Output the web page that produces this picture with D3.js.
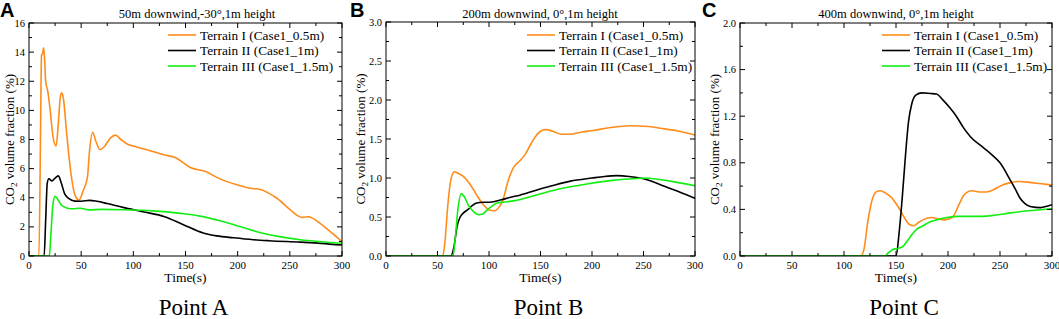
<!DOCTYPE html>
<html>
<head>
<meta charset="utf-8">
<script src="https://cdn.jsdelivr.net/npm/d3@7"></script>
<style>
  body { margin: 0; background: #fff; }
</style>
</head>
<body>
<div id="chart"></div>
<script>
// series names
const seriesNames = ["Terrain I (Case1_0.5m)", "Terrain II (Case1_1m)", "Terrain III (Case1_1.5m)"];
const seriesColors = ["#ff8c1a", "#000000", "#11ee11"];

// Point A: [time, CO2 %]
const aTerrain1 = [[0,0],[9.5,0],[11,8],[12,13.8],[13,13.9],[14,14.3],[15,13.5],[16,12],[18,11.3],[20,10.2],[23,8.2],[26,7.55],[28,9],[30,10.9],[31.5,11.2],[33,10.8],[36,8.5],[40,5.8],[44,4.2],[48,3.85],[52,4.5],[56,5.4],[58,7.2],[61,8.5],[64,7.9],[68,7.3],[72,7.5],[78,8.1],[83,8.3],[88,8.0],[95,7.65],[100,7.55],[113,7.3],[130,6.93],[140,6.77],[154,6.1],[170,5.78],[180,5.4],[200,4.87],[212,4.65],[222,4.57],[230,4.3],[237,4.0],[250,3.2],[258,2.75],[262,2.65],[268,2.7],[273,2.55],[279,2.24],[290,1.6],[300,0.98]];
const aTerrain2 = [[0,0],[14.5,0],[16,2.5],[17.5,5.0],[19,5.3],[22,5.15],[25,5.35],[28,5.5],[31,5.0],[34,4.3],[38,3.95],[44,3.77],[50,3.76],[58,3.82],[65,3.76],[75,3.6],[90,3.34],[109,3.04],[130,2.7],[148,2.15],[167,1.58],[180,1.38],[196,1.25],[215,1.12],[230,1.05],[260,0.95],[280,0.87],[300,0.75]];
const aTerrain3 = [[0,0],[19.5,0],[21,1.5],[23,3.6],[25,4.1],[27,3.95],[31,3.5],[36,3.3],[42,3.24],[49,3.28],[57,3.17],[70,3.2],[90,3.18],[119,3.1],[145,2.93],[164,2.74],[183,2.42],[202,2.02],[221,1.62],[240,1.33],[260,1.12],[280,0.98],[300,0.87]];

// Point B
const bTerrain1 = [[0,0],[55,0],[57,0.15],[60,0.65],[63,0.98],[66.5,1.08],[70,1.06],[75,1.02],[80,0.95],[85,0.85],[90,0.74],[95,0.65],[100,0.59],[105,0.58],[110,0.63],[113,0.7],[119,0.98],[124,1.14],[130,1.22],[135,1.3],[140,1.42],[145,1.53],[150,1.6],[155,1.62],[162,1.6],[170,1.56],[178,1.56],[190,1.59],[201,1.61],[215,1.64],[237,1.67],[255,1.66],[270,1.63],[285,1.6],[300,1.55]];
const bTerrain2 = [[0,0],[63,0],[66,0.12],[69,0.38],[72,0.5],[75,0.55],[80,0.6],[84,0.65],[88,0.68],[94,0.69],[101,0.69],[112,0.72],[120,0.75],[130,0.78],[145,0.84],[161,0.9],[179,0.96],[200,1.0],[212,1.02],[224,1.03],[236,1.02],[250,0.99],[260,0.95],[269,0.9],[285,0.82],[300,0.74]];
const bTerrain3 = [[0,0],[65,0],[67,0.2],[70,0.62],[73,0.8],[76,0.76],[80,0.65],[85,0.57],[90,0.53],[94,0.54],[99,0.6],[103,0.64],[108,0.68],[114,0.69],[125,0.71],[140,0.76],[165,0.85],[198,0.93],[220,0.97],[240,0.99],[252,1.0],[265,0.98],[280,0.95],[300,0.9]];

// Point C
const cTerrain1 = [[0,0],[116,0],[119,0.05],[123,0.3],[127,0.48],[131,0.55],[135,0.56],[140,0.54],[146,0.5],[150,0.45],[153,0.41],[158,0.33],[163,0.27],[167,0.26],[172,0.29],[176,0.31],[184,0.33],[190,0.32],[196,0.31],[201,0.32],[205,0.34],[210,0.43],[215,0.52],[219,0.55],[223,0.56],[230,0.55],[237,0.55],[244,0.57],[250,0.6],[260,0.63],[269,0.64],[280,0.63],[290,0.62],[300,0.61]];
const cTerrain2 = [[0,0],[150,0],[153,0.2],[156,0.5],[159,0.85],[162,1.15],[165,1.3],[169,1.38],[175,1.4],[183,1.395],[189,1.39],[195,1.34],[202,1.27],[208,1.2],[215,1.1],[222,1.02],[234,0.93],[242,0.87],[250,0.8],[260,0.65],[265,0.57],[269,0.5],[274,0.45],[279,0.425],[289,0.415],[296,0.43],[300,0.44]];
const cTerrain3 = [[0,0],[139,0],[143,0.03],[147,0.055],[152,0.065],[157,0.085],[161,0.13],[165,0.18],[170,0.23],[176,0.26],[182,0.29],[189,0.31],[199,0.33],[210,0.34],[220,0.34],[231,0.34],[245,0.35],[260,0.37],[280,0.39],[300,0.405]];

const panels = [
  { letter: "A", title: "50m downwind,-30°,1m height", caption: "Point A",
    x0: 29, x1: 342, y0: 23, y1: 256, yMax: 16, yMajor: 2, yFmt: d3.format("d"),
    titleX: 197, ylabX: 10, letterX: 0, legendX: 168, series: [aTerrain1, aTerrain2, aTerrain3] },
  { letter: "B", title: "200m downwind, 0°,1m height", caption: "Point B",
    x0: 386, x1: 695, y0: 22, y1: 256, yMax: 3, yMajor: 0.5, yFmt: d3.format(".1f"),
    titleX: 540, ylabX: 361, letterX: 350, legendX: 527, series: [bTerrain1, bTerrain2, bTerrain3] },
  { letter: "C", title: "400m downwind, 0°,1m height", caption: "Point C",
    x0: 740, x1: 1052, y0: 23, y1: 256, yMax: 2, yMajor: 0.4, yFmt: d3.format(".1f"),
    titleX: 896, ylabX: 715, letterX: 702, legendX: 882, series: [cTerrain1, cTerrain2, cTerrain3] }
];

const serif = "'Liberation Serif', 'Times New Roman', Times, serif";

const svg = d3.select("#chart").append("svg")
  .attr("width", 1059).attr("height", 319)
  .attr("font-family", serif);

panels.forEach(p => {
  const x = d3.scaleLinear().domain([0, 300]).range([p.x0, p.x1]);
  const y = d3.scaleLinear().domain([0, p.yMax]).range([p.y1, p.y0]);
  const g = svg.append("g");

  const xMajor = d3.range(0, 301, 50);
  const xMinor = d3.range(25, 300, 50);
  const nY = Math.round(p.yMax / p.yMajor);
  const yMajor = d3.range(0, nY + 1).map(i => +(i * p.yMajor).toFixed(3));
  const yMinor = d3.range(0, nY).map(i => +((i + 0.5) * p.yMajor).toFixed(3));

  // clip for lines
  const clipId = "clip" + p.letter;
  g.append("clipPath").attr("id", clipId).append("rect")
    .attr("x", p.x0).attr("y", p.y0).attr("width", p.x1 - p.x0).attr("height", p.y1 - p.y0);

  // Lines
  const line = d3.line().x(d => x(d[0])).y(d => y(d[1])).curve(d3.curveMonotoneX);
  p.series.forEach((s, i) => {
    g.append("path").datum(s)
      .attr("clip-path", "url(#" + clipId + ")")
      .attr("fill", "none")
      .attr("stroke", seriesColors[i])
      .attr("stroke-width", 1.6)
      .attr("d", line);
  });

  // Frame
  g.append("rect").attr("x", p.x0).attr("y", p.y0)
    .attr("width", p.x1 - p.x0).attr("height", p.y1 - p.y0)
    .attr("fill", "none").attr("stroke", "#000").attr("stroke-width", 1);

  // Ticks inside on all sides
  const tk = g.append("g").attr("stroke", "#000").attr("stroke-width", 1);
  xMajor.concat(xMinor).forEach(v => {
    const len = xMajor.includes(v) ? 5 : 3;
    tk.append("line").attr("x1", x(v)).attr("x2", x(v)).attr("y1", p.y1).attr("y2", p.y1 - len);
    tk.append("line").attr("x1", x(v)).attr("x2", x(v)).attr("y1", p.y0).attr("y2", p.y0 + len);
  });
  yMajor.concat(yMinor).forEach(v => {
    const len = yMajor.includes(v) ? 5 : 3;
    tk.append("line").attr("y1", y(v)).attr("y2", y(v)).attr("x1", p.x0).attr("x2", p.x0 + len);
    tk.append("line").attr("y1", y(v)).attr("y2", y(v)).attr("x1", p.x1).attr("x2", p.x1 - len);
  });

  // Tick labels
  g.selectAll(".xl").data(xMajor).enter().append("text")
    .attr("x", d => x(d)).attr("y", p.y1 + 13)
    .attr("text-anchor", "middle").attr("font-size", 11).text(d => d);
  g.selectAll(".yl").data(yMajor).enter().append("text")
    .attr("x", p.x0 - 4).attr("y", d => y(d) + 3.5)
    .attr("text-anchor", "end").attr("font-size", 10.5).text(d => p.yFmt(d));

  // Axis titles
  g.append("text").attr("x", (p.x0 + p.x1) / 2).attr("y", p.y1 + 26)
    .attr("text-anchor", "middle").attr("font-size", 13.5).text("Time(s)");
  const yl = g.append("text")
    .attr("transform", "translate(" + (p.ylabX + 4) + "," + ((p.y0 + p.y1) / 2) + ") rotate(-90)")
    .attr("text-anchor", "middle").attr("font-size", 13);
  yl.append("tspan").text("CO");
  yl.append("tspan").attr("font-size", 9).attr("dy", 3).text("2");
  yl.append("tspan").attr("dy", -3).text(" volume fraction (%)");

  // Title
  g.append("text").attr("x", p.titleX).attr("y", 18)
    .attr("text-anchor", "middle").attr("font-size", 12.5).text(p.title);

  // Panel letter
  g.append("text").attr("x", p.letterX).attr("y", 17)
    .attr("font-family", "'Liberation Sans', Arial, sans-serif").attr("font-weight", "bold")
    .attr("font-size", 20).text(p.letter);

  // Legend
  seriesNames.forEach((name, i) => {
    const ly = 35 + i * 15.5;
    g.append("line").attr("x1", p.legendX).attr("x2", p.legendX + 28)
      .attr("y1", ly).attr("y2", ly)
      .attr("stroke", seriesColors[i]).attr("stroke-width", 1.6);
    g.append("text").attr("x", p.legendX + 32).attr("y", ly + 4.5)
      .attr("font-size", 13.3).text(name);
  });

  // Caption
  g.append("text").attr("x", (p.x0 + p.x1) / 2 + 8).attr("y", 315)
    .attr("text-anchor", "middle").attr("font-size", 23).text(p.caption);
});
</script>
</body>
</html>
